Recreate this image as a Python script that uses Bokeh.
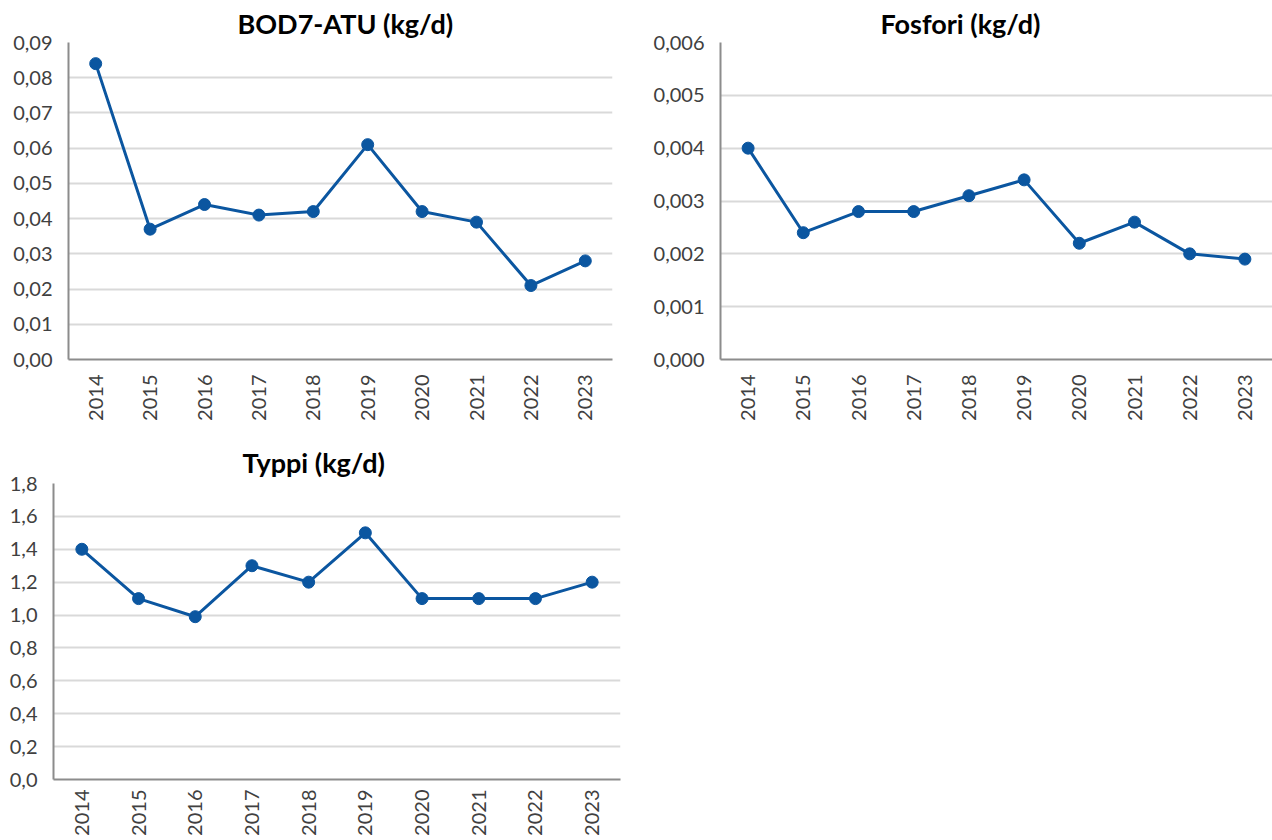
from bokeh.plotting import figure
from bokeh.layouts import column, row
from bokeh.models import FactorRange, Range1d, FixedTicker, Title
from bokeh.embed import file_html
from bokeh.resources import INLINE
import math

years = ["2014", "2015", "2016", "2017", "2018", "2019", "2020", "2021", "2022", "2023"]
bod_values = [0.084, 0.037, 0.044, 0.041, 0.042, 0.061, 0.042, 0.039, 0.021, 0.028]
fosfori_values = [0.0040, 0.0024, 0.0028, 0.0028, 0.0031, 0.0034, 0.0022, 0.0026, 0.0020, 0.0019]
typpi_values = [1.4, 1.1, 0.99, 1.3, 1.2, 1.5, 1.1, 1.1, 1.1, 1.2]

bod_ticks = [0.00, 0.01, 0.02, 0.03, 0.04, 0.05, 0.06, 0.07, 0.08, 0.09]
bod_labels = ["0,00", "0,01", "0,02", "0,03", "0,04", "0,05", "0,06", "0,07", "0,08", "0,09"]
fosfori_ticks = [0.000, 0.001, 0.002, 0.003, 0.004, 0.005, 0.006]
fosfori_labels = ["0,000", "0,001", "0,002", "0,003", "0,004", "0,005", "0,006"]
typpi_ticks = [0.0, 0.2, 0.4, 0.6, 0.8, 1.0, 1.2, 1.4, 1.6, 1.8]
typpi_labels = ["0,0", "0,2", "0,4", "0,6", "0,8", "1,0", "1,2", "1,4", "1,6", "1,8"]

titles = ["BOD7-ATU (kg/d)", "Fosfori (kg/d)", "Typpi (kg/d)"]

LINE = "#0b56a0"
FONT = "Lato"


def make(title, values, ticks, labels, width, height, mb_left, mb_right, mb_top, mb_bottom,
         title_offset, title_standoff, x_standoff):
    p = figure(
        x_range=FactorRange(factors=years, range_padding=0),
        y_range=Range1d(ticks[0], ticks[-1]),
        width=width, height=height,
        min_border_left=mb_left, min_border_right=mb_right,
        min_border_top=mb_top, min_border_bottom=mb_bottom,
        output_backend="svg", toolbar_location=None,
    )
    p.outline_line_color = None
    p.background_fill_color = "white"
    p.border_fill_color = "white"
    p.xgrid.grid_line_color = None
    p.ygrid.grid_line_color = "#d9d9d9"
    p.ygrid.grid_line_width = 2
    p.yaxis.ticker = FixedTicker(ticks=ticks)
    p.yaxis.major_label_overrides = {t: l for t, l in zip(ticks, labels)}
    for ax in (p.xaxis[0], p.yaxis[0]):
        ax.axis_line_color = "#8c8c8c"
        ax.axis_line_width = 2
        ax.major_tick_line_color = None
        ax.minor_tick_line_color = None
        ax.major_label_text_font = FONT
        ax.major_label_text_font_size = "20px"
        ax.major_label_text_color = "#404040"
    p.yaxis.major_label_standoff = 10
    p.xaxis.major_label_orientation = math.pi / 2
    p.xaxis.major_label_standoff = x_standoff

    p.line(years, values, line_color=LINE, line_width=3)
    p.scatter(years, values, size=12, fill_color=LINE, line_color=LINE)

    p.add_layout(Title(text=title, align="left", offset=title_offset,
                       text_font=FONT, text_font_style="bold",
                       text_font_size="27px", text_color="#000000",
                       vertical_align="bottom", standoff=title_standoff), "above")
    return p


p1 = make(titles[0], bod_values, bod_ticks, bod_labels, 636, 430, 68, 24, 42, 71, 169, 6, 9)
p2 = make(titles[1], fosfori_values, fosfori_ticks, fosfori_labels, 636, 430, 84, 0, 42, 70, 160, 6, 9)
p3 = make(titles[2], typpi_values, typpi_ticks, typpi_labels, 636, 408, 53, 16, 53, 56, 189, 10, 4)

layout = column(row(p1, p2, spacing=0), p3, spacing=0)
open("out.html", "w").write(file_html(layout, INLINE))
